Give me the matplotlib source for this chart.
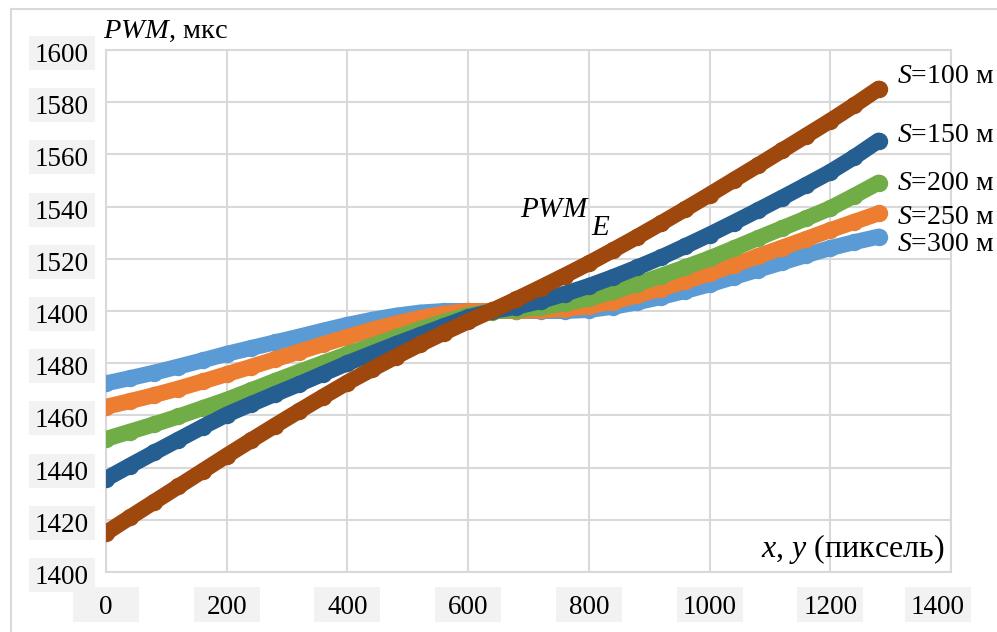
import matplotlib
matplotlib.use("Agg")
import matplotlib.pyplot as plt
from matplotlib.patches import Rectangle
from matplotlib.lines import Line2D

plt.rcParams['font.family'] = ['Liberation Serif', 'DejaVu Serif']
plt.rcParams['mathtext.fontset'] = 'custom'
plt.rcParams['mathtext.rm'] = 'Liberation Serif'
plt.rcParams['mathtext.it'] = 'Liberation Serif:italic'

# ---------------- data ----------------
x_px = [0, 40, 80, 120, 160, 200, 240, 280, 320, 360, 400, 440, 480, 520, 560, 600,
        640, 680, 720, 760, 800, 840, 880, 920, 960, 1000, 1040, 1080, 1120, 1160,
        1200, 1240, 1280]

pwm_s300 = [1472.3, 1474.3, 1476.4, 1478.7, 1481.1, 1483.6, 1485.8, 1488.0, 1490.2,
            1492.5, 1494.7, 1496.6, 1498.2, 1499.4, 1500.0, 1500.0, 1500.0, 1500.0,
            1500.0, 1500.0, 1500.4, 1501.6, 1503.3, 1505.4, 1507.7, 1510.2, 1513.0,
            1515.8, 1518.6, 1521.4, 1524.1, 1526.4, 1528.5]
pwm_s250 = [1463.3, 1465.5, 1467.8, 1470.3, 1473.0, 1475.8, 1478.6, 1481.5, 1484.4,
            1487.3, 1490.1, 1492.8, 1495.2, 1497.3, 1499.0, 1500.0, 1500.0, 1500.0,
            1500.2, 1500.8, 1501.8, 1503.6, 1506.0, 1508.6, 1511.4, 1514.4, 1517.6,
            1521.0, 1524.3, 1527.6, 1531.0, 1534.2, 1537.4]
pwm_s200 = [1451.0, 1453.8, 1456.6, 1459.6, 1462.8, 1466.0, 1469.6, 1473.2, 1476.7,
            1480.1, 1483.5, 1486.7, 1489.9, 1493.0, 1495.9, 1498.4, 1499.8, 1500.4,
            1501.4, 1502.9, 1504.8, 1507.5, 1510.4, 1513.5, 1516.8, 1520.2, 1524.0,
            1527.9, 1531.7, 1535.5, 1539.4, 1544.2, 1549.2]
pwm_s150 = [1435.7, 1440.8, 1445.8, 1450.7, 1455.6, 1460.3, 1464.3, 1468.2, 1472.0,
            1476.0, 1480.0, 1483.7, 1487.3, 1490.8, 1494.2, 1497.6, 1500.0, 1501.6,
            1503.8, 1506.6, 1509.6, 1513.0, 1516.7, 1520.6, 1524.9, 1529.3, 1533.9,
            1538.6, 1543.4, 1548.3, 1553.3, 1559.0, 1565.3]
pwm_s100 = [1415.0, 1421.0, 1426.9, 1432.8, 1438.7, 1444.6, 1450.4, 1456.1, 1461.7,
            1467.2, 1472.6, 1477.6, 1482.5, 1487.2, 1491.7, 1496.0, 1500.2, 1504.5,
            1509.0, 1513.6, 1518.3, 1523.3, 1528.4, 1533.7, 1539.1, 1544.6, 1550.2,
            1555.8, 1561.5, 1567.2, 1572.9, 1578.9, 1585.2]

series_values = [pwm_s300, pwm_s250, pwm_s200, pwm_s150, pwm_s100]
series_labels = ["300", "250", "200", "150", "100"]
series_colors = ["#5B9BD5", "#ED7D31", "#70AD47", "#255E91", "#9E480E"]
label_y = [1525.3, 1536.0, 1549.0, 1567.4, 1589.7]

x_ticks = [0, 200, 400, 600, 800, 1000, 1200, 1400]
x_tick_labels = ["0", "200", "400", "600", "800", "1000", "1200", "1400"]
y_ticks = [1400, 1420, 1440, 1460, 1480, 1500, 1520, 1540, 1560, 1580, 1600]
y_tick_labels = ["1400", "1420", "1440", "1460", "1480", "1400", "1520", "1540",
                 "1560", "1580", "1600"]

# ---------------- figure ----------------
W, H = 997, 632
fig = plt.figure(figsize=(W / 100, H / 100), dpi=100)
ax_l, ax_r, ax_t, ax_b = 106, 951, 50, 572
AW, AH = ax_r - ax_l, ax_b - ax_t
ax = fig.add_axes([ax_l / W, (H - ax_b) / H, AW / W, AH / H])
ax.set_xlim(0, 1400)
ax.set_ylim(1400, 1600)
ax.set_xticks(x_ticks)
ax.set_yticks(y_ticks)
ax.set_xticklabels([])
ax.set_yticklabels([])
ax.tick_params(length=0)
ax.set_axisbelow(True)
ax.grid(True, color="#d9d9d9", linewidth=1.5)
for sp in ax.spines.values():
    sp.set_color("#d9d9d9")
    sp.set_linewidth(1.5)

xs_per_px = 1400 / AW
ys_per_px = 200 / AH

for vals, col in zip(series_values, series_colors):
    ax.plot(x_px, vals, color=col, linewidth=11.5, marker='o', markersize=11.5,
            solid_capstyle='round', solid_joinstyle='round', zorder=3)

# tick labels with grey boxes
box_col = "#f2f2f2"
tick_fs = 19.5
ytr = ax.get_yaxis_transform()
for v, lab in zip(y_ticks, y_tick_labels):
    cx = (62 - ax_l) / AW
    ax.add_patch(Rectangle((cx - 33 / AW, v - 3 * ys_per_px - 17 * ys_per_px),
                           66 / AW, 34 * ys_per_px, transform=ytr,
                           facecolor=box_col, edgecolor='none', clip_on=False, zorder=0.1))
    ax.text(cx, v - 3 * ys_per_px - 9 * ys_per_px, lab, transform=ytr, ha='center',
            va='baseline', fontsize=tick_fs, clip_on=False)

xtr = ax.get_xaxis_transform()
for v, lab in zip(x_ticks, x_tick_labels):
    cxv = v - (13 * xs_per_px if v == 1400 else 0)
    ax.add_patch(Rectangle((cxv - 33 * xs_per_px, (ax_b - 622) / AH),
                           66 * xs_per_px, 35 / AH, transform=xtr,
                           facecolor=box_col, edgecolor='none', clip_on=False, zorder=0.1))
    ax.text(cxv, (ax_b - 614) / AH, lab, transform=xtr, ha='center',
            va='baseline', fontsize=tick_fs, clip_on=False)

# series labels
for lab, yv in zip(series_labels, label_y):
    ax.text(1310, yv, r"$S$=" + lab + " м", ha='left', va='center', fontsize=20,
            clip_on=False)

# PWM_E annotation
ax.text(686, 1536, r"$PWM$", ha='left', va='baseline', fontsize=21)
ax.text(803, 1529, r"$E$", ha='left', va='baseline', fontsize=21)

# axis titles
fig.text(103 / W, 1 - 38 / H, r"$PWM$, мкс", ha='left', va='baseline', fontsize=20.5)
ax.text(1400 * (944 - ax_l) / AW, (ax_b - 557) / AH, r"$x$, $y$ (пиксель)",
        transform=xtr, ha='right', va='baseline', fontsize=23)

# outer frame
fig.add_artist(Line2D([11 / W, 11 / W], [0, 1 - 9 / H], transform=fig.transFigure,
                      color="#d9d9d9", linewidth=1.5))
fig.add_artist(Line2D([11 / W, 1], [1 - 9 / H, 1 - 9 / H], transform=fig.transFigure,
                      color="#d9d9d9", linewidth=1.5))

fig.savefig("out.png", dpi=100)
